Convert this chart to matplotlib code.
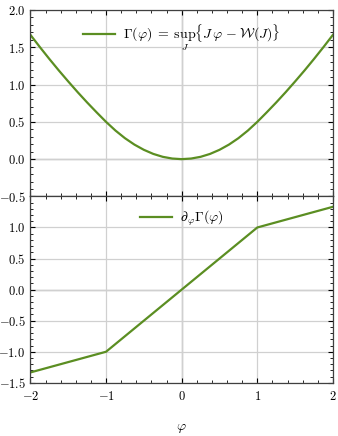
import matplotlib
matplotlib.use("Agg")
import matplotlib.pyplot as plt
from matplotlib.ticker import MultipleLocator

plt.rcParams['font.family'] = 'serif'
plt.rcParams['font.serif'] = ['cmr10']
plt.rcParams['mathtext.fontset'] = 'cm'
plt.rcParams['axes.formatter.use_mathtext'] = True
plt.rcParams['axes.unicode_minus'] = True

# values
phi = [-2.0, -1.875, -1.75, -1.625, -1.5, -1.375, -1.25, -1.125, -1.0,
       -0.875, -0.75, -0.625, -0.5, -0.375, -0.25, -0.125, 0.0,
       0.125, 0.25, 0.375, 0.5, 0.625, 0.75, 0.875, 1.0,
       1.125, 1.25, 1.375, 1.5, 1.625, 1.75, 1.875, 2.0]
gamma = [1.667, 1.503, 1.344, 1.190, 1.042, 0.898, 0.760, 0.628, 0.500,
         0.383, 0.281, 0.195, 0.125, 0.070, 0.031, 0.008, 0.0,
         0.008, 0.031, 0.070, 0.125, 0.195, 0.281, 0.383, 0.500,
         0.628, 0.760, 0.898, 1.042, 1.190, 1.344, 1.503, 1.667]
phi_d = [-2.0, -1.0, 1.0, 2.0]
dgamma = [-1.333, -1.0, 1.0, 1.333]

top_yticks = [-0.5, 0.0, 0.5, 1.0, 1.5, 2.0]
bot_yticks = [-1.5, -1.0, -0.5, 0.0, 0.5, 1.0]
xticks = [-2, -1, 0, 1, 2]

green = '#5b8e22'

fig, (ax1, ax2) = plt.subplots(2, 1, sharex=True, figsize=(3.38, 4.36), dpi=100)
fig.subplots_adjust(left=0.09, right=0.985, top=0.977, bottom=0.122, hspace=0)

for ax in (ax1, ax2):
    ax.grid(True, color='#d0d0d0', lw=0.9)
    ax.axhline(0, color='#909090', lw=0.9, zorder=1)
    ax.axvline(0, color='#909090', lw=0.9, zorder=1)
    ax.tick_params(which='both', direction='in', top=True, right=True, labelsize=9)
    ax.tick_params(which='major', length=3.5, width=0.8)
    ax.tick_params(which='minor', length=2, width=0.6)
    ax.tick_params(axis='x', pad=5)
    ax.xaxis.set_minor_locator(MultipleLocator(0.2))
    ax.yaxis.set_minor_locator(MultipleLocator(0.1))
    for s in ax.spines.values():
        s.set_color('#404040')
        s.set_linewidth(0.9)

ax1.plot(phi, gamma, color=green, lw=1.6,
         label=r'$\Gamma(\varphi) \;=\; \sup_J\{J\,\varphi \;-\; \mathcal{W}(J)\}$')
ax1.set_ylim(-0.5, 2.0)
ax1.set_yticks(top_yticks)
ax1.legend(loc='upper center', frameon=False, fontsize=10, handlelength=2.3,
           handletextpad=0.6, bbox_to_anchor=(0.5, 1.0))

ax2.plot(phi_d, dgamma, color=green, lw=1.6, label=r'$\partial_\varphi \Gamma(\varphi)$')
ax2.set_ylim(-1.5, 1.5)
ax2.set_yticks(bot_yticks)
ax2.set_xlim(-2, 2)
ax2.set_xticks(xticks)
ax2.legend(loc='upper center', frameon=False, fontsize=10, handlelength=2.3,
           handletextpad=0.6, bbox_to_anchor=(0.5, 1.0))
ax2.set_xlabel(r'$\varphi$', fontsize=10, labelpad=14)

plt.savefig('out.png', dpi=100)
